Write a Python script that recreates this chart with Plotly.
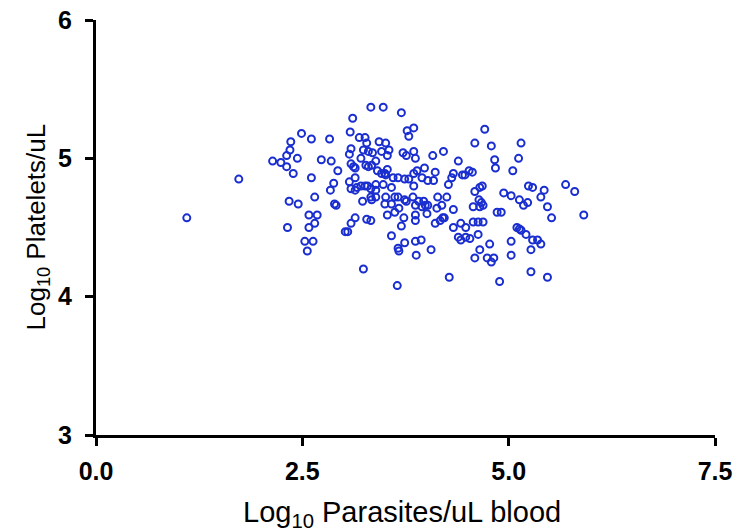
import plotly.graph_objects as go

# Log10 Parasites/uL blood
parasites = [
    1.10, 1.73, 2.36, 2.35, 2.31, 2.44, 2.14, 2.24, 2.31, 2.39, 2.34, 2.45, 2.32,
    3.33, 3.48, 3.11, 3.70, 2.49, 2.61, 2.83, 3.08, 3.19, 3.26, 3.28, 3.43, 3.51,
    3.55, 3.77, 3.85, 3.79, 3.09, 3.07, 3.24, 3.30, 3.35, 3.46, 3.53, 3.21, 3.72,
    3.76, 3.85, 3.87, 4.08, 4.21, 4.71, 4.59, 4.79, 5.15, 4.83, 4.84, 5.12, 5.05,
    4.39, 2.73, 2.85, 2.93, 3.09, 3.12, 3.14, 3.27, 3.30, 3.34, 3.39, 3.41, 3.46,
    3.50, 3.53, 3.51, 3.60, 3.66, 3.74, 3.79, 3.85, 3.89, 3.98, 4.11, 3.95, 4.02,
    4.09, 4.33, 4.31, 4.44, 4.47, 4.52, 4.56, 2.61, 2.88, 2.84, 3.07, 3.14, 3.09,
    3.16, 3.21, 3.26, 3.29, 3.33, 3.39, 3.39, 3.48, 3.58, 3.14, 3.85, 4.27, 4.59,
    4.65, 4.68, 4.94, 5.03, 5.24, 5.29, 5.43, 5.69, 5.80, 5.91, 2.65, 2.89, 2.91,
    3.23, 3.33, 3.34, 3.39, 3.51, 3.50, 3.58, 3.62, 3.66, 3.74, 3.76, 3.84, 3.87,
    3.91, 3.97, 3.99, 4.02, 3.95, 4.14, 4.25, 4.19, 4.13, 4.33, 4.57, 4.64, 4.67,
    4.69, 4.65, 4.86, 4.91, 5.13, 5.18, 5.23, 5.39, 5.47, 5.52, 2.58, 2.68, 3.14,
    3.28, 3.33, 3.53, 3.67, 3.62, 3.73, 3.87, 3.87, 3.70, 4.01, 4.20, 4.22, 4.17,
    4.11, 3.09, 2.58, 2.65, 3.02, 3.05, 3.58, 4.33, 4.42, 4.48, 4.57, 4.63, 4.69,
    4.39, 4.42, 4.48, 4.53, 4.63, 4.77, 4.65, 4.59, 4.74, 4.82, 4.79, 5.03, 5.03,
    5.10, 5.13, 5.15, 5.21, 5.29, 5.35, 5.39, 5.27, 5.27, 5.47, 4.89, 4.28, 4.06,
    3.88, 3.87, 3.94, 3.74, 3.66, 3.67, 3.65, 3.24, 2.53, 2.63, 2.56,
]

# Log10 Platelets/uL
platelets = [
    4.57, 4.85, 5.12, 5.06, 5.02, 5.00, 4.98, 4.97, 4.94, 4.89, 4.69, 4.67, 4.50,
    5.37, 5.37, 5.29, 5.33, 5.18, 5.14, 5.14, 5.19, 5.15, 5.15, 5.11, 5.12, 5.11,
    5.06, 5.20, 5.22, 5.16, 5.07, 5.03, 5.06, 5.05, 5.04, 5.05, 5.02, 5.00, 5.04,
    5.02, 5.05, 5.00, 5.02, 5.05, 5.21, 5.11, 5.09, 5.11, 4.99, 4.93, 5.00, 4.91,
    4.98, 4.99, 4.98, 4.91, 4.96, 4.94, 4.93, 4.95, 4.94, 4.95, 4.98, 4.91, 4.89,
    4.89, 4.92, 4.88, 4.86, 4.86, 4.85, 4.85, 4.89, 4.91, 4.93, 4.90, 4.86, 4.84,
    4.84, 4.89, 4.86, 4.88, 4.88, 4.91, 4.90, 4.86, 4.82, 4.77, 4.83, 4.86, 4.78,
    4.79, 4.80, 4.80, 4.80, 4.78, 4.81, 4.77, 4.81, 4.79, 4.77, 4.80, 4.81, 4.76,
    4.79, 4.80, 4.75, 4.73, 4.80, 4.79, 4.77, 4.81, 4.76, 4.59, 4.72, 4.67, 4.66,
    4.69, 4.72, 4.70, 4.72, 4.72, 4.67, 4.67, 4.72, 4.72, 4.70, 4.69, 4.72, 4.66,
    4.69, 4.69, 4.66, 4.66, 4.65, 4.72, 4.72, 4.66, 4.64, 4.63, 4.65, 4.70, 4.68,
    4.66, 4.65, 4.61, 4.61, 4.70, 4.66, 4.68, 4.72, 4.65, 4.57, 4.59, 4.59, 4.57,
    4.56, 4.55, 4.59, 4.64, 4.61, 4.57, 4.59, 4.55, 4.51, 4.60, 4.57, 4.57, 4.55,
    4.53, 4.53, 4.50, 4.53, 4.47, 4.47, 4.44, 4.50, 4.53, 4.50, 4.54, 4.54, 4.54,
    4.43, 4.41, 4.43, 4.42, 4.45, 4.38, 4.34, 4.28, 4.28, 4.28, 4.25, 4.40, 4.30,
    4.50, 4.49, 4.48, 4.45, 4.41, 4.41, 4.38, 4.34, 4.18, 4.14, 4.11, 4.14, 4.34,
    4.30, 4.40, 4.41, 4.39, 4.35, 4.33, 4.08, 4.20, 4.40, 4.40, 4.33,
]

x_ticks = [0.0, 2.5, 5.0, 7.5]
x_tick_labels = ["0.0", "2.5", "5.0", "7.5"]
y_ticks = [3, 4, 5, 6]
y_tick_labels = ["3", "4", "5", "6"]
x_title = "Log<sub>10</sub> Parasites/uL blood"
y_title = "Log<sub>10</sub> Platelets/uL"

FONT = "Liberation Sans"

fig = go.Figure()
fig.add_trace(go.Scatter(
    x=parasites, y=platelets, mode="markers",
    marker=dict(symbol="circle-open", size=7, color="#1a2ed0",
                line=dict(width=2, color="#1a2ed0")),
    showlegend=False, hoverinfo="skip",
))

axis_common = dict(
    showline=True, linecolor="black", linewidth=3,
    ticks="outside", ticklen=8, tickwidth=3, tickcolor="black",
    showgrid=False, zeroline=False, automargin=False,
    ticklabeloverflow="allow",
    tickfont=dict(family=FONT, size=25, color="black"),
)

fig.update_layout(
    width=747, height=531,
    margin=dict(l=96, r=32, t=20, b=96),
    paper_bgcolor="white", plot_bgcolor="white",
    xaxis=dict(range=[0, 7.5], tickvals=x_ticks,
               ticktext=["<b>%s</b>" % t for t in x_tick_labels],
               ticklabelstandoff=4, **axis_common),
    yaxis=dict(range=[3, 6], tickvals=y_ticks,
               ticktext=["<b>%s</b>" % t for t in y_tick_labels],
               ticklabelstandoff=8, **axis_common),
    annotations=[
        dict(text=x_title, xref="paper", yref="paper", x=0.495, y=-0.19,
             xanchor="center", yanchor="middle", showarrow=False,
             font=dict(family=FONT, size=29, color="black")),
        dict(text=y_title, xref="paper", yref="paper", x=-0.0953, y=0.5,
             xanchor="center", yanchor="middle", showarrow=False, textangle=-90,
             font=dict(family=FONT, size=26, color="black")),
    ],
)

fig.write_html("out.html", config={"displayModeBar": False},
               post_script="document.body.style.margin='0';")
